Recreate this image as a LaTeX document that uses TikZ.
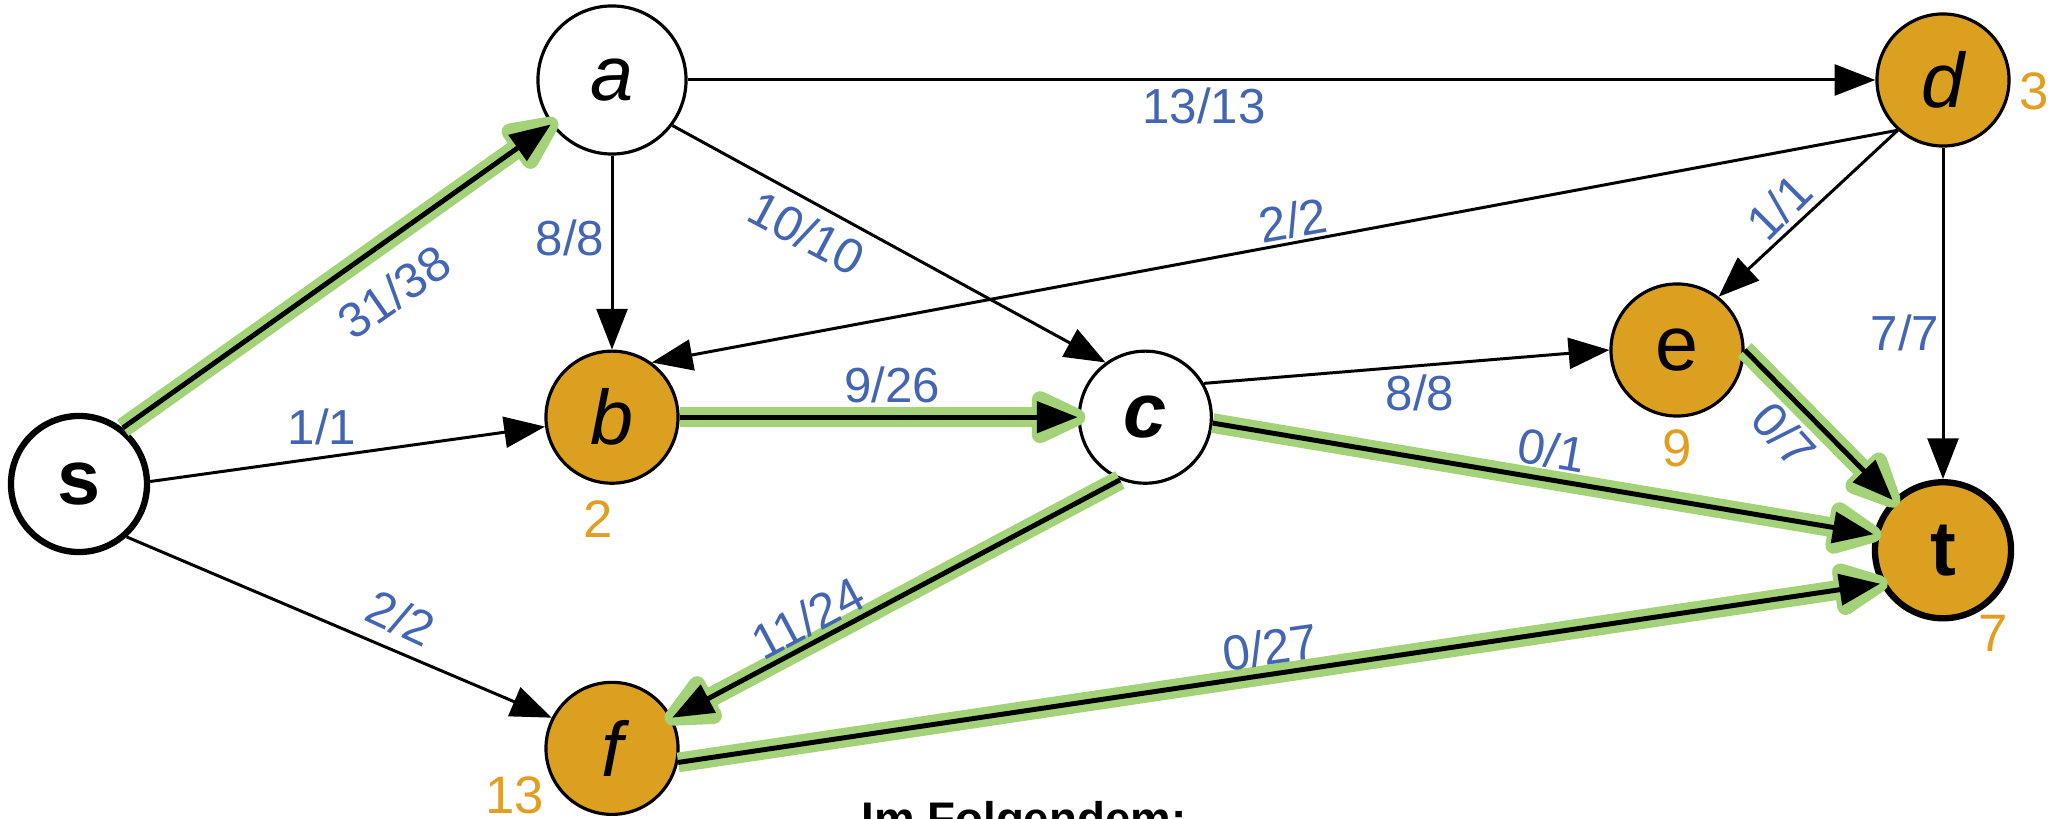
\documentclass[tikz,border=0pt]{standalone}
\usepackage{fontspec}
\setmainfont{Liberation Sans}
\usetikzlibrary{positioning,arrows.meta}
\definecolor{hitorange}{RGB}{220,160,32}
\definecolor{numorange}{RGB}{226,158,34}
\definecolor{capblue}{RGB}{68,102,178}
\definecolor{augreen}{RGB}{163,210,120}
\tikzset{
  vertex/.style={circle, draw=black, line width=0.9pt, minimum size=1.32cm, inner sep=0pt, font=\fontsize{22}{24}\selectfont},
  hit/.style={vertex, fill=hitorange},
  term/.style={line width=1.8pt, minimum size=1.36cm, font=\fontsize{22}{24}\selectfont\bfseries},
  caplabel/.style={text=capblue, font=\fontsize{14}{16}\selectfont, inner sep=0pt},
  dist/.style={text=numorange, font=\fontsize{15}{17}\selectfont, inner sep=0pt},
  augback/.style={draw=augreen, line width=5.6pt, -{Triangle[length=19pt,width=16pt,round]}, shorten >=-2.2pt},
  augfront/.style={line width=1.4pt}
}
\begin{document}
\begin{tikzpicture}[x=0.01cm, y=-0.01cm, -{Triangle[length=11.6pt,width=8.8pt]}, line width=0.85pt, on grid]
	\useasboundingbox (0,0) rectangle (2060,819);
	\node[vertex, term] (s) at (79,484) {s};
	\node[vertex, minimum size=1.48cm] (a) at (612,80) {\itshape a};
	\node[hit] (b) [below=3.37cm of a] {\itshape b};
	\node[vertex] (c) [right=5.33cm of b] {\bfseries\itshape c};
	\node[hit] (f) [below=3.31cm of b] {\itshape f};
	\node[hit] (d) at (1943,80) {\itshape d};
	\node[hit] (e) at (1677,350) {e};
	\node[hit, term] (t) [below=4.7cm of d] {t};
	\path (s.52) edge[augback] (a.216);
	\path (b) edge[augback] (c);
	\path (c.-5) edge[augback] (t.167);
	\path (c.248) edge[augback] (f.27);
	\path (e.east) edge[augback] (t.135);
	\path (f.-12) edge[augback] (t.208);
	\path (s.52) edge[augfront] (a.216);
	\path (b) edge[augfront] (c);
	\path (c.-5) edge[augfront] (t.167);
	\path (c.248) edge[augfront] (f.27);
	\path (e.east) edge[augfront] (t.135);
	\path (f.-12) edge[augfront] (t.208);
	\path (s.2) edge (b.188);
	\path (s.-48) edge (f.153);
	\path (a.east) edge (d.west);
	\path (a) edge (b);
	\path (a.-37) edge (c.126);
	\path (d.228) edge (b.54);
	\path (d.228) edge (e.52);
	\path (d) edge (t);
	\path (c.30) edge (e.west);
	\node[caplabel, rotate=35] (f-sa) at (394,292) {31/38};
	\node[caplabel] (f-sb) at (322,427) {1/1};
	\node[caplabel, rotate=-25] (f-sf) at (401,618) {2/2};
	\node[caplabel] (f-ab) at (570,238) {8/8};
	\node[caplabel, rotate=-28] (f-ac) at (807,233) {10/10};
	\node[caplabel] (f-ad) at (1204,106) {13/13};
	\node[caplabel, rotate=10] (f-db) at (1293,220) {2/2};
	\node[caplabel, rotate=45] (f-de) at (1779,207) {1/1};
	\node[caplabel] (f-dt) at (1905,333) {7/7};
	\node[caplabel] (f-bc) at (892,385) {9/26};
	\node[caplabel] (f-ce) at (1420,393) {8/8};
	\node[caplabel, rotate=-10] (f-ct) at (1552,450) {0/1};
	\node[caplabel, rotate=-48] (f-et) at (1784,435) {0/7};
	\node[caplabel, rotate=28] (f-cf) at (808,618) {11/24};
	\node[caplabel, rotate=8] (f-ft) at (1270,647) {0/27};
	\node[dist] (n-b) at (598,519) {2};
	\node[dist] (n-d) at (2034,91) {3};
	\node[dist] (n-e) at (1677,448) {9};
	\node[dist] (n-t) at (1993,633) {7};
	\node[dist] (n-f) at (515,795) {13};
	\node[anchor=base, font=\fontsize{13}{15}\selectfont\bfseries] (next) at (1024,835) {Im Folgendem:};
\end{tikzpicture}
\end{document}
